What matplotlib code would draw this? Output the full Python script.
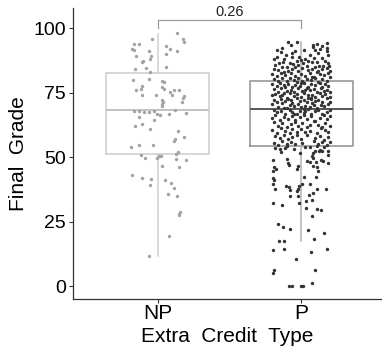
import matplotlib
matplotlib.use("Agg")
import matplotlib.pyplot as plt

plt.rcParams["font.family"] = ["Liberation Sans", "DejaVu Sans"]

groups = ["NP", "P"]
p_value_label = "0.26"

# box statistics
box_q1 = [51.1, 54.4]
box_med = [68.3, 68.6]
box_q3 = [82.8, 79.4]
box_lo = [11.6, 17.5]
box_hi = [97.8, 94.7]

# jittered points: (horizontal offset from group centre, final grade)
np_points = [
    (0.133, 98.1), (0.175, 95.7), (-0.042, 95.7), (0.184, 94.5), (-0.17, 93.8),
    (-0.135, 93.8), (-0.18, 92.0), (-0.165, 91.6), (0.058, 92.9), (0.082, 92.1),
    (0.133, 91.2), (-0.065, 91.0), (0.056, 90.1), (-0.154, 89.3), (-0.047, 89.3),
    (-0.054, 88.1), (-0.105, 87.4), (-0.11, 86.7), (-0.084, 84.5), (0.058, 84.8),
    (-0.163, 84.0), (-0.058, 83.0), (-0.175, 80.0), (-0.06, 80.4), (0.028, 79.6),
    (0.044, 79.2), (-0.11, 77.7), (-0.117, 76.4), (-0.15, 76.1), (0.028, 77.0),
    (0.04, 76.4), (-0.11, 74.2), (-0.012, 74.2), (0.082, 75.1), (0.11, 75.9),
    (0.145, 76.1), (0.098, 74.2), (0.028, 72.3), (0.033, 71.5), (0.028, 70.6),
    (0.03, 69.9), (0.184, 73.8), (0.175, 73.0), (0.168, 71.4), (0.117, 68.4),
    (-0.17, 67.7), (-0.135, 67.7), (-0.10, 67.5), (-0.065, 67.5), (-0.026, 67.7),
    (-0.007, 66.7), (0.012, 66.3), (0.08, 66.7), (0.198, 67.1), (-0.13, 65.5),
    (-0.03, 64.3), (-0.16, 61.9), (-0.11, 62.8), (-0.054, 61.0), (0.14, 60.3),
    (0.12, 57.0), (0.184, 57.8), (0.114, 56.1), (-0.19, 53.8), (-0.135, 54.6),
    (-0.035, 54.5), (0.138, 51.9), (0.128, 51.1), (-0.12, 50.7), (-0.093, 49.8),
    (-0.007, 49.8), (0.009, 50.3), (0.021, 50.6), (0.128, 49.4), (0.198, 49.0),
    (0.028, 46.7), (0.149, 46.1), (-0.18, 43.1), (-0.11, 41.7), (-0.047, 41.4),
    (0.047, 41.0), (0.093, 40.0), (-0.056, 39.1), (0.114, 37.9), (0.07, 35.6),
    (0.133, 34.8), (0.156, 28.8), (0.15, 28.1), (0.147, 27.5), (0.08, 19.5),
    (-0.065, 11.6),
]

p_upper = [
    (-0.089, 94.5), (-0.07, 93.5), (0.082, 93.5), (0.114, 93.9), (0.18, 94.2),
    (-0.03, 94.6), (0.15, 93.2),
    (0.021, 91.6), (0.086, 92.6), (0.098, 91.4), (0.18, 92.3), (0.18, 91.0),
    (-0.135, 92.3), (-0.17, 91.5), (0.13, 92.0), (-0.04, 91.3),
    (-0.105, 89.7), (-0.065, 90.3), (-0.17, 89.0), (-0.012, 89.0), (0.06, 89.5),
    (0.12, 90.2), (0.19, 89.4), (-0.14, 90.6),
    (0.0, 87.7), (-0.03, 87.1), (0.051, 87.1), (-0.19, 88.0), (0.15, 88.3),
    (0.09, 88.6), (-0.12, 87.9), (0.17, 87.4), (-0.06, 88.8), (0.03, 88.2),
    (-0.152, 86.5), (-0.124, 86.7), (-0.077, 86.5), (-0.054, 86.2), (-0.019, 85.8),
    (0.016, 86.5), (0.075, 86.7), (0.11, 86.7), (0.128, 85.4), (0.156, 85.2),
    (0.198, 85.2), (-0.18, 85.6), (0.04, 85.3), (-0.1, 85.1), (0.19, 86.4),
    (0.18, 84.5), (-0.19, 84.3), (-0.16, 83.6), (-0.13, 84.8), (-0.09, 83.4),
    (-0.06, 84.1), (-0.02, 83.2), (0.01, 84.6), (0.05, 83.8), (0.08, 84.2),
    (0.12, 83.3), (0.15, 84.0), (0.2, 83.5), (-0.04, 84.9), (0.1, 84.9),
    (-0.2, 82.4), (-0.17, 81.5), (-0.14, 82.8), (-0.11, 81.9), (-0.07, 82.5),
    (-0.04, 81.3), (0.0, 82.1), (0.03, 81.6), (0.06, 82.7), (0.09, 81.2),
    (0.13, 82.3), (0.16, 81.8), (0.19, 82.6), (-0.12, 83.0), (0.11, 82.9),
    (-0.19, 80.2), (-0.16, 79.6), (-0.13, 80.7), (-0.1, 79.4), (-0.08, 80.5),
    (-0.05, 79.9), (-0.02, 80.8), (0.01, 79.5), (0.04, 80.3), (0.07, 79.8),
    (0.1, 80.6), (0.12, 79.3), (0.15, 80.1), (0.18, 79.7), (0.2, 80.9),
    (-0.03, 79.2), (0.08, 81.0),
]

p_middle = [
    (-0.2, 78.3), (-0.17, 77.4), (-0.15, 78.8), (-0.12, 77.9), (-0.09, 78.5),
    (-0.06, 77.2), (-0.04, 78.1), (-0.01, 77.6), (0.02, 78.9), (0.05, 77.3),
    (0.07, 78.4), (0.1, 77.8), (0.13, 78.6), (0.15, 77.1), (0.17, 78.2),
    (0.19, 77.7), (0.0, 78.7), (-0.11, 77.0),
    (-0.19, 76.4), (-0.16, 75.3), (-0.14, 76.8), (-0.1, 75.8), (-0.07, 76.2),
    (-0.05, 75.1), (-0.02, 76.6), (0.01, 75.5), (0.04, 76.9), (0.06, 75.9),
    (0.09, 76.3), (0.11, 75.2), (0.14, 76.7), (0.16, 75.6), (0.18, 76.1),
    (0.2, 75.4), (-0.12, 75.0), (0.03, 76.0),
    (-0.18, 74.6), (-0.15, 73.5), (-0.13, 74.2), (-0.1, 73.1), (-0.08, 74.8),
    (-0.05, 73.8), (-0.03, 74.4), (0.0, 73.3), (0.02, 74.7), (0.05, 73.9),
    (0.08, 74.1), (0.1, 73.4), (0.13, 74.9), (0.15, 73.7), (0.17, 74.3),
    (0.2, 73.2), (-0.2, 73.9), (0.07, 73.0),
    (-0.19, 72.2), (-0.17, 71.4), (-0.14, 72.7), (-0.11, 71.8), (-0.09, 72.4),
    (-0.06, 71.1), (-0.03, 72.9), (-0.01, 71.6), (0.02, 72.3), (0.04, 71.3),
    (0.07, 72.6), (0.1, 71.9), (0.12, 72.1), (0.15, 71.5), (0.18, 72.8),
    (0.2, 71.2), (-0.07, 72.0), (0.05, 72.9),
    (-0.2, 70.4), (-0.16, 69.5), (-0.13, 70.8), (-0.1, 69.1), (-0.08, 70.2),
    (-0.05, 69.8), (-0.02, 70.6), (0.0, 69.3), (0.03, 70.0), (0.06, 69.6),
    (0.08, 70.9), (0.11, 69.0), (0.14, 70.3), (0.16, 69.7), (0.19, 70.7),
    (-0.12, 68.9), (0.02, 68.8), (0.09, 70.1),
    (-0.19, 68.2), (-0.17, 67.3), (-0.14, 67.9), (-0.11, 66.8), (-0.08, 68.4),
    (-0.06, 67.5), (-0.03, 66.9), (-0.01, 68.0), (0.02, 67.2), (0.05, 68.5),
    (0.07, 66.7), (0.1, 67.7), (0.12, 68.3), (0.15, 66.6), (0.18, 67.4),
    (0.2, 68.1), (0.03, 67.9), (-0.05, 66.6),
    (-0.2, 65.1), (-0.18, 66.2), (-0.15, 64.4), (-0.12, 65.7), (-0.09, 64.9),
    (-0.06, 66.0), (-0.04, 64.2), (-0.01, 65.4), (0.02, 66.3), (0.04, 64.6),
    (0.07, 65.8), (0.1, 64.1), (0.13, 65.3), (0.16, 66.4), (0.18, 64.8),
    (0.2, 65.9),
    (-0.19, 63.6), (-0.16, 62.2), (-0.13, 63.1), (-0.1, 61.7), (-0.07, 62.8),
    (-0.04, 63.8), (-0.02, 62.0), (0.01, 63.3), (0.04, 61.6), (0.06, 62.6),
    (0.09, 63.9), (0.12, 62.4), (0.15, 61.8), (0.17, 63.4), (0.2, 62.1),
    (-0.2, 60.5), (-0.17, 59.4), (-0.14, 61.2), (-0.11, 60.1), (-0.08, 59.2),
    (-0.06, 60.8), (-0.03, 59.7), (0.0, 61.0), (0.03, 59.9), (0.06, 60.3),
    (0.11, 59.3), (0.14, 61.3), (0.17, 60.6), (0.19, 59.6),
    (-0.18, 58.1), (-0.15, 57.3), (-0.12, 58.7), (-0.09, 56.9), (-0.06, 57.8),
    (-0.03, 58.4), (0.0, 57.0), (0.04, 58.6), (0.1, 57.5), (0.13, 58.2),
    (0.16, 56.8), (0.19, 57.9),
    (-0.19, 55.6), (-0.16, 54.7), (-0.13, 56.1), (-0.1, 55.2), (-0.07, 55.9),
    (-0.04, 54.9), (0.01, 55.4), (0.09, 56.3), (0.12, 55.0), (0.15, 55.7),
    (0.18, 54.6), (0.2, 56.0),
]

p_lower = [
    (-0.18, 53.5), (-0.15, 53.3), (-0.114, 53.5), (-0.098, 54.2), (0.112, 54.2),
    (0.135, 52.9), (0.147, 52.3), (0.10, 52.3), (0.128, 52.3), (0.082, 51.6),
    (0.075, 50.6), (0.082, 49.8), (0.186, 52.5), (0.186, 51.0), (0.19, 47.7),
    (-0.193, 49.0), (-0.10, 49.3), (-0.093, 47.7), (-0.084, 47.1), (-0.019, 46.5),
    (-0.03, 45.4), (0.044, 48.6), (0.063, 48.0), (0.14, 49.0), (0.152, 48.3),
    (0.105, 48.0), (0.086, 46.5), (0.114, 46.2), (0.121, 44.5), (-0.186, 46.2),
    (-0.177, 45.2), (-0.193, 44.5), (-0.193, 41.9), (-0.186, 41.3), (0.021, 42.3),
    (0.105, 42.2), (-0.193, 39.6), (-0.18, 37.7), (-0.105, 38.7), (-0.084, 38.3),
    (-0.077, 37.2), (-0.012, 38.7), (0.005, 39.6), (-0.019, 37.7), (-0.03, 36.8),
    (0.063, 39.4), (-0.077, 35.1), (-0.019, 34.8), (0.058, 35.2), (0.086, 36.1),
    (0.11, 37.8), (0.175, 37.8), (-0.193, 32.3), (-0.13, 31.6), (-0.014, 32.3),
    (0.035, 32.9), (0.077, 33.2), (0.035, 30.1), (0.11, 29.9), (0.138, 29.4),
    (0.075, 27.1), (-0.159, 24.0), (-0.124, 22.8), (-0.077, 22.2), (0.051, 21.7),
    (0.163, 20.4), (0.093, 18.1), (-0.154, 17.4), (-0.119, 17.5), (-0.198, 13.8),
    (-0.119, 14.2), (0.072, 13.3), (0.18, 14.5), (-0.033, 10.3), (0.098, 6.1),
    (-0.189, 6.2), (-0.193, 4.9), (-0.082, 0.0), (-0.061, 0.0), (0.0, 0.0),
    (0.016, 0.0), (0.079, 1.3), (-0.05, 53.0), (0.03, 53.8), (-0.14, 52.0),
    (0.16, 53.9), (0.06, 54.0), (-0.01, 51.5),
]

p_points = p_upper + p_middle + p_lower

box_edge = ["#cccccc", "#8f8f8f"]
median_col = ["#c2c2c2", "#575757"]
whisker_col = ["#cfcfcf", "#b3b3b3"]
point_col = ["#a3a3a3", "#333333"]

fig = plt.figure(figsize=(3.82, 3.5), dpi=100)
ax = fig.add_axes([0.191, 0.146, 0.809, 0.831])

stats = []
for i, name in enumerate(groups):
    stats.append({
        "label": name, "q1": box_q1[i], "med": box_med[i], "q3": box_q3[i],
        "whislo": box_lo[i], "whishi": box_hi[i], "fliers": [],
    })

for i in range(len(groups)):
    ax.bxp(
        [stats[i]], positions=[i + 1], widths=0.72, showcaps=False,
        showfliers=False, manage_ticks=False,
        boxprops=dict(color=box_edge[i], lw=1.1),
        whiskerprops=dict(color=whisker_col[i], lw=1.1),
        medianprops=dict(color=median_col[i], lw=1.4),
        zorder=1,
    )

for i, pts in enumerate([np_points, p_points]):
    xs = [i + 1 + dx for dx, _ in pts]
    ys = [y for _, y in pts]
    ax.scatter(xs, ys, s=6, color=point_col[i], linewidths=0, zorder=2)

# comparison bracket
bracket_y = 103.0
tick_y = 100.0
ax.plot([1, 1, 2, 2], [tick_y, bracket_y, bracket_y, tick_y],
        color="#9a9a9a", lw=0.9, zorder=3)
ax.text(1.5, bracket_y + 0.6, p_value_label, ha="center", va="bottom",
        fontsize=10.5, color="#222222")

ax.set_xlim(0.406, 2.566)
ax.set_ylim(-5.0, 107.8)
ax.set_xticks([1, 2])
ax.set_xticklabels(groups)
ax.set_yticks([0, 25, 50, 75, 100])

for side in ["top", "right"]:
    ax.spines[side].set_visible(False)
for side in ["left", "bottom"]:
    ax.spines[side].set_color("#333333")
    ax.spines[side].set_linewidth(0.9)

ax.tick_params(axis="both", colors="#333333", length=3, width=0.8,
               labelcolor="black", pad=2)
ax.tick_params(axis="x", labelsize=15, pad=1)
ax.tick_params(axis="y", labelsize=14)
ax.set_xlabel("Extra  Credit  Type", fontsize=15, labelpad=2.5)
ax.set_ylabel("Final  Grade", fontsize=15, labelpad=4)

fig.savefig("out.png", dpi=100)
